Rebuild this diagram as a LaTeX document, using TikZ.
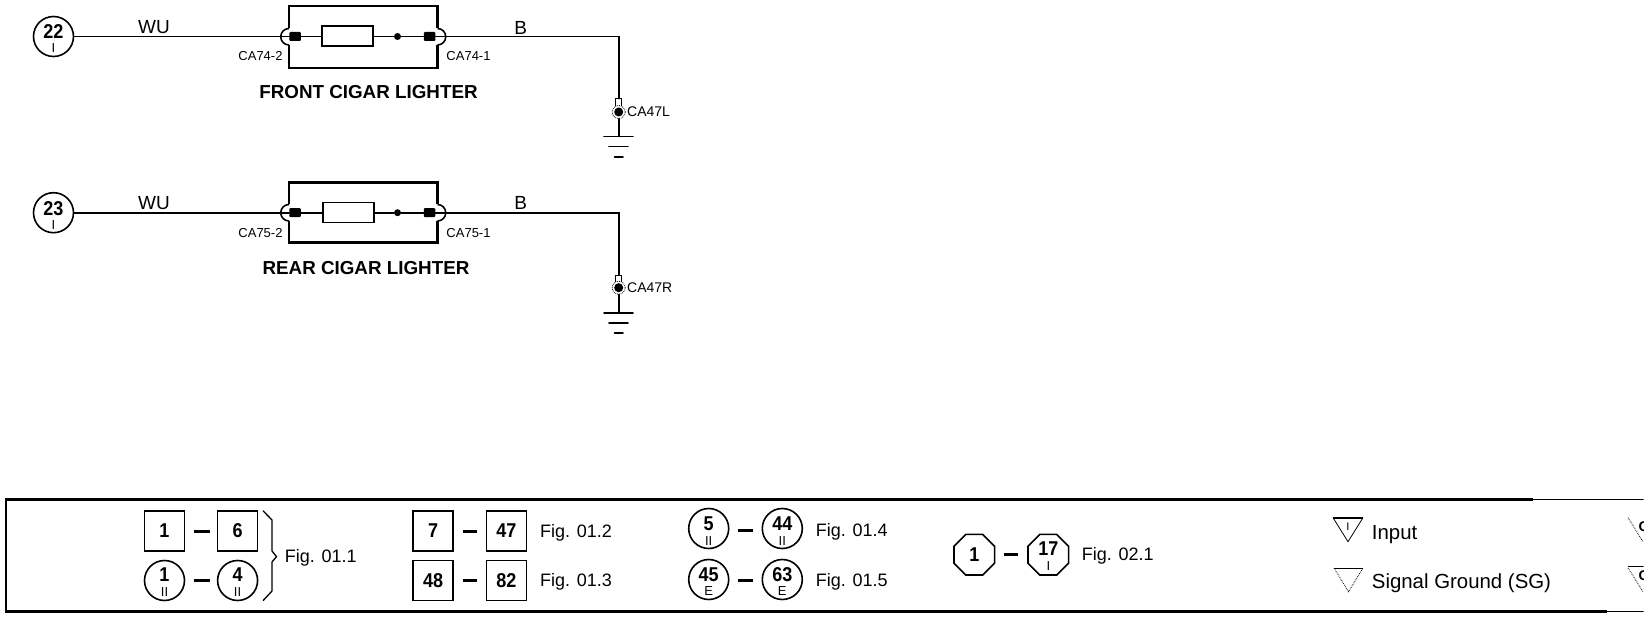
\documentclass[tikz,border=0pt]{standalone}
\usepackage{fontspec}
\setmainfont{Liberation Sans}
\newfontfamily\numfont[FakeStretch=0.9]{Liberation Sans}
\usetikzlibrary{shapes.geometric}
\newcommand{\fsz}[1]{\fontsize{#1}{#1}\selectfont}
\tikzset{
  wire/.style={line width=1.8pt,line cap=round},
  heavy/.style={line width=2.6pt},
  tag/.style={inner sep=0pt,font=\fsz{13}},
  tagw/.style={inner sep=0pt,anchor=west,font=\fsz{14}},
  big/.style={inner sep=0pt,font=\fsz{18.8}\bfseries},
  wirelab/.style={inner sep=0pt,font=\fsz{19}},
  numb/.style={inner sep=0pt,font=\fsz{20}\numfont\bfseries},
  sub/.style={inner sep=0pt,font=\fsz{13}},
  fig/.style={inner sep=0pt,anchor=west,font=\fsz{18}},
  figwide/.style={inner sep=0pt,anchor=west,font=\fsz{20.4}},
  roundb/.style={circle,draw,line width=1.6pt,minimum size=40pt,inner sep=0pt},
  squareb/.style={rectangle,draw,line width=1.6pt,minimum size=40pt,inner sep=0pt},
  octb/.style={regular polygon,regular polygon sides=8,draw,line width=1.6pt,minimum size=44pt,inner sep=0pt},
  res/.style={rectangle,draw,line width=2pt,minimum width=51pt,minimum height=20pt,inner sep=0pt},
  term/.style={rectangle,fill=black,rounded corners=1pt,minimum width=11.5pt,minimum height=9pt,inner sep=0pt},
  jdot/.style={circle,fill=black,minimum size=7pt,inner sep=0pt},
  splice/.style={circle,draw,densely dotted,fill=white,line width=0.8pt,minimum size=13pt,inner sep=0pt},
  splicein/.style={circle,fill=black,minimum size=9pt,inner sep=0pt},
  lug/.style={rectangle,draw,fill=white,line width=1pt,minimum width=6pt,minimum height=9pt,inner sep=0pt},
  rng/.style={line width=1.6pt},
  dashbar/.style={line width=3pt},
}
\begin{document}
\begin{tikzpicture}[x=1pt,y=-1pt]
\useasboundingbox (0,0) rectangle (1648,620);
\clip (0,0) rectangle (1643.5,620);

% ---- row 1
\node[roundb] (c22) at (53.5,36.5) {};
\node[numb] at (53.5,32) {22};
\node[sub] at (53.5,48.5) {I};
\node[wirelab] at (154,27.5) {WU};
\node[wirelab] at (520.6,27.5) {B};
\draw[heavy] (289,28.5) -- (289,6) -- (437.5,6) -- (437.5,28.5);
\draw[heavy] (289,45) -- (289,68) -- (437.5,68) -- (437.5,45);
\draw[rng] (289,28.5) arc[start angle=-90,end angle=-270,radius=8.25];
\draw[rng] (437.5,28.5) arc[start angle=-90,end angle=90,radius=8.25];
\node[term] (t1l) at (295,36.5) {};
\node[term] (t1r) at (429.5,36.5) {};
\node[res] (r1) at (347.5,36.5) {};
\node[jdot] (d1) at (397.5,36.5) {};
\coordinate (k1) at (618.7,36.5);
\node[lug] (l1) at (618.7,103.5) {};
\node[splice] (s1) at (618.7,112) {};
\node[splicein] at (618.7,112) {};
\coordinate (g1) at (618.7,136.5);
\draw[wire] (c22) -- (t1l) -- (r1) -- (d1) -- (t1r) -- (k1) -- (l1);
\draw[wire] (s1) -- (g1);
\draw[wire] (604,136.5) -- (633,136.5);
\draw[wire] (609,146.5) -- (628,146.5);
\draw[wire] (614.5,157) -- (623,157);
\node[tag] at (260.5,56) {CA74-2};
\node[tag] at (468.5,56) {CA74-1};
\node[tagw] at (627,112) {CA47L};
\node[big] at (368.5,92) {FRONT CIGAR LIGHTER};

% ---- row 2
\node[roundb] (c23) at (53.5,212.7) {};
\node[numb] at (53.5,208.2) {23};
\node[sub] at (53.5,224.7) {I};
\node[wirelab] at (154,203) {WU};
\node[wirelab] at (520.6,203) {B};
\draw[heavy] (289,204.5) -- (289,182.7) -- (437.5,182.7) -- (437.5,204.5);
\draw[heavy] (289,221) -- (289,242.7) -- (437.5,242.7) -- (437.5,221);
\draw[rng] (289,204.5) arc[start angle=-90,end angle=-270,radius=8.25];
\draw[rng] (437.5,204.5) arc[start angle=-90,end angle=90,radius=8.25];
\node[term] (t2l) at (295,212.7) {};
\node[term] (t2r) at (429.5,212.7) {};
\node[res,line width=1.5pt] (r2) at (348.5,212.7) {};
\node[jdot] (d2) at (397.5,212.7) {};
\coordinate (k2) at (618.7,212.7);
\node[lug] (l2) at (618.7,279.5) {};
\node[splice] (s2) at (618.7,287.7) {};
\node[splicein] at (618.7,287.7) {};
\coordinate (g2) at (618.7,312.7);
\draw[wire] (c23) -- (t2l) -- (r2) -- (d2) -- (t2r) -- (k2) -- (l2);
\draw[wire] (s2) -- (g2);
\draw[wire] (604,312.7) -- (633,312.7);
\draw[wire] (609,322.7) -- (628,322.7);
\draw[wire] (614.5,332.7) -- (623,332.7);
\node[tag] at (260.5,232.7) {CA75-2};
\node[tag] at (468.5,232.7) {CA75-1};
\node[tagw] at (627,288) {CA47R};
\node[big] at (366,268.3) {REAR CIGAR LIGHTER};

% ---- legend frame
\draw[line width=2.4pt] (1533,499.3) -- (6,499.3) -- (6,611.3) -- (1607,611.3);
\draw[line width=0.9pt] (1533,499.3) -- (1648,499.3);
\draw[line width=0.9pt] (1607,611.3) -- (1648,611.3);

% ---- Fig 01.1
\node[squareb] (a1) at (164.5,531) {};
\node[numb] at (164.5,531) {1};
\node[squareb] (a2) at (237.6,531) {};
\node[numb] at (237.6,531) {6};
\draw[dashbar] (a1) ++(29.2,0) -- ++(15.9,0);
\node[roundb] (b1) at (164.5,580.5) {};
\node[numb] at (164.5,575) {1};
\node[sub] at (164.5,592) {II};
\node[roundb] (b2) at (237.6,580.5) {};
\node[numb] at (237.6,575) {4};
\node[sub] at (237.6,592) {II};
\draw[dashbar] (b1) ++(29.2,0) -- ++(15.9,0);
\draw[line width=1.3pt] (263,510.7) -- (272,520) -- (272,551) -- (276.5,556.7) -- (272,562) -- (272,591) -- (263,600.7);
\node[fig] at (284.7,557.5) {Fig. 01.1};

% ---- Fig 01.2/3
\node[squareb] (a3) at (433.2,531) {};
\node[numb] at (433.2,531) {7};
\node[squareb] (a4) at (506.4,531) {};
\node[numb] at (506.4,531) {47};
\draw[dashbar] (462.6,531) -- (477,531);
\node[fig] at (540,532.5) {Fig. 01.2};
\node[squareb] (a5) at (433.2,580.5) {};
\node[numb] at (433.2,580.5) {48};
\node[squareb] (a6) at (506.4,580.5) {};
\node[numb] at (506.4,580.5) {82};
\draw[dashbar] (462.6,580.5) -- (477,580.5);
\node[fig] at (540,581.5) {Fig. 01.3};

% ---- Fig 01.4/5
\node[roundb] (e1) at (708.7,528.5) {};
\node[numb] at (708.7,524) {5};
\node[sub] at (708.7,541) {II};
\node[roundb] (e2) at (782.3,528.5) {};
\node[numb] at (782.3,524) {44};
\node[sub] at (782.3,541) {II};
\draw[dashbar] (738,530) -- (752.7,530);
\node[fig] at (815.7,531.5) {Fig. 01.4};
\node[roundb] (e3) at (708.7,579.5) {};
\node[numb] at (708.7,575) {45};
\node[sub] at (708.7,591) {E};
\node[roundb] (e4) at (782.3,579.5) {};
\node[numb] at (782.3,575) {63};
\node[sub] at (782.3,591) {E};
\draw[dashbar] (738,580) -- (752.7,580);
\node[fig] at (815.7,581.5) {Fig. 01.5};

% ---- Fig 02.1
\node[octb] (o1) at (974.3,554.7) {};
\node[numb] at (974.3,554.7) {1};
\node[octb] (o2) at (1048.3,554.7) {};
\node[numb] at (1048.3,549) {17};
\node[sub] at (1048.3,566.5) {I};
\draw[dashbar] (1004,554.7) -- (1018,554.7);
\node[fig] at (1081.7,555.5) {Fig. 02.1};

% ---- triangles
\draw[line width=0.8pt] (1333,517.7) -- (1348,541.7) -- (1363,517.7);
\draw[line width=1.8pt] (1333,517.7) -- (1363,517.7);
\node[inner sep=0pt,font=\fsz{11}] at (1348,526.5) {I};
\node[figwide] at (1371.7,534.5) {Input};
\draw[line width=0.8pt,densely dotted] (1334,568) -- (1348.5,591.7) -- (1363,568);
\draw[line width=0.8pt] (1334,568) -- (1363,568);
\node[figwide] at (1371.7,583.5) {Signal Ground (SG)};

% ---- clipped triangles at the right edge
\draw[line width=0.8pt,densely dotted] (1628,517.7) -- (1643,541.7);
\node[inner sep=0pt,anchor=west,font=\fsz{14}\bfseries] at (1638.3,527) {O};
\draw[line width=0.8pt,densely dotted] (1628,568) -- (1643,591.7);
\draw[line width=1pt] (1628,566.5) -- (1648,566.5);
\node[inner sep=0pt,anchor=west,font=\fsz{14}\bfseries] at (1638.3,576) {G};
\end{tikzpicture}
\end{document}
